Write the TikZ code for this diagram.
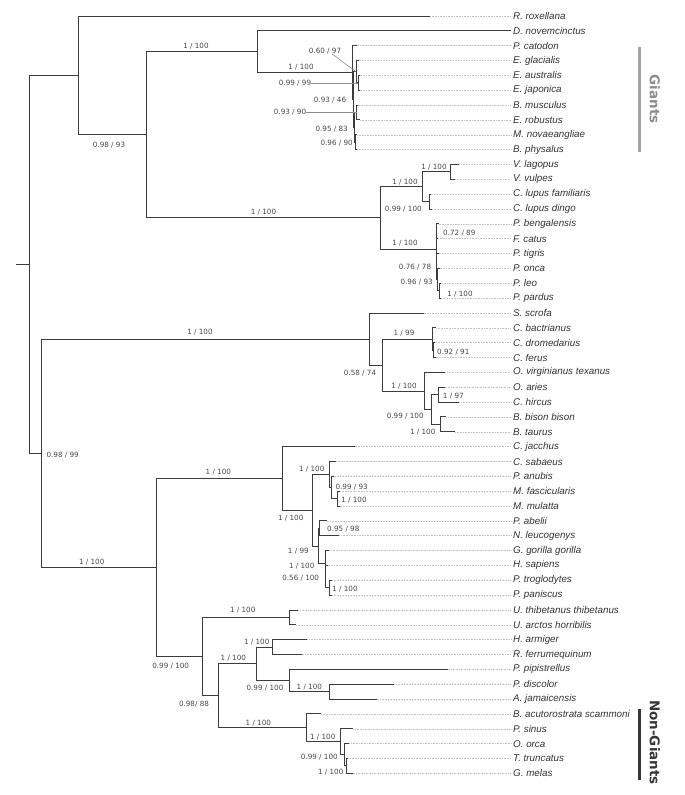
\documentclass[tikz,border=0pt]{standalone}
\usepackage{fontspec}
\setmainfont{Liberation Sans}
\newfontfamily\supfam{DejaVu Sans}
\definecolor{branchGray}{RGB}{60,60,60}
\definecolor{leaderGray}{RGB}{195,195,195}
\definecolor{taxonGray}{RGB}{50,50,50}
\definecolor{supGray}{RGB}{70,70,70}
\definecolor{pointerGray}{RGB}{140,140,140}
\definecolor{giantGray}{RGB}{165,160,162}
\definecolor{giantText}{RGB}{140,140,140}
\definecolor{nonGiantDark}{RGB}{55,55,55}
\tikzset{
  branch/.style={draw=branchGray, line width=0.95pt},
  leader/.style={draw=leaderGray, line width=0.6pt, dash pattern=on 0.8pt off 0.8pt, shorten >=2pt},
  taxon/.style={anchor=west, inner sep=0pt, text=taxonGray, font=\fontsize{9.8}{11}\selectfont\itshape},
  support/.style={inner sep=0pt, text=supGray, font=\supfam\fontsize{7.2}{8}\selectfont},
  pointer/.style={draw=pointerGray, line width=0.6pt},
  groupbar/.style={line width=3.3pt},
  grouplabel/.style={rotate=-90, inner sep=0pt, font=\supfam\bfseries\fontsize{13.5}{14}\selectfont}
}
\begin{document}
\begin{tikzpicture}[x=1pt, y=-1pt]
\useasboundingbox (0,0) rectangle (685,795);

\foreach \tname/\trow/\ttip in {R. roxellana/0/430, D. novemcinctus/1/511, P. catodon/2/356.7, E. glacialis/3/358.5,
  E. australis/4/359.5, E. japonica/5/359.5, B. musculus/6/357.5, E. robustus/7/360, M. novaeangliae/8/357,
  B. physalus/9/357, V. lagopus/10/459.3, V. vulpes/11/455, C. lupus familiaris/12/430.5, C. lupus dingo/13/432,
  P. bengalensis/14/438.5, F. catus/15/438, P. tigris/16/438.5, P. onca/17/439.5, P. leo/18/440.5, P. pardus/19/441,
  S. scrofa/20/423.6, C. bactrianus/21/436, C. dromedarius/22/434.5, C. ferus/23/435.5, O. virginianus texanus/24/445.4,
  O. aries/25/444.5, C. hircus/26/459.4, B. bison bison/27/446.3, B. taurus/28/455, C. jacchus/29/354.5,
  C. sabaeus/30/336, P. anubis/31/333.5, M. fascicularis/32/340, M. mulatta/33/339.5, P. abelii/34/326.7,
  N. leucogenys/35/339.3, G. gorilla gorilla/36/329.3, H. sapiens/37/327.5, P. troglodytes/38/332, P. paniscus/39/332,
  U. thibetanus thibetanus/40/298.3, U. arctos horribilis/41/296, H. armiger/42/307.3, R. ferrumequinum/43/301.7,
  P. pipistrellus/44/447.7, P. discolor/45/394.3, A. jamaicensis/46/376.7, B. acutorostrata scammoni/47/321,
  P. sinus/48/353.3, O. orca/49/349.3, T. truncatus/50/348.3, G. melas/51/352.7}{
  \coordinate (tip\trow) at (\ttip, {16+14.85*\trow});
  \node[taxon] (lab\trow) at (513, {16+14.85*\trow}) {\tname};
  \draw[leader] (tip\trow) -- (lab\trow.west);
}

\coordinate (stem) at (16,264.3);
\coordinate (root) at (29.3,264.3);
\coordinate (anc1) at (78.6,75.4);
\coordinate (anc2) at (146.3,134.8);
\coordinate (xen) at (257.3,51.7);
\coordinate (whales) at (352.5,72.6);
\coordinate (baleen) at (353.3,99.6);
\coordinate (eub) at (356,71.7);
\coordinate (eubAJ) at (358.3,82.8);
\coordinate (ror) at (354,127.4);
\coordinate (rorBE) at (356.7,112.5);
\coordinate (rorMB) at (355.3,142.2);
\coordinate (carn) at (380.7,217.9);
\coordinate (can) at (422.3,186.8);
\coordinate (vul) at (450,171.9);
\coordinate (lup) at (429.3,201.6);
\coordinate (fel) at (436,249);
\coordinate (felPF) at (436.7,231.3);
\coordinate (pan) at (436.8,266.6);
\coordinate (panOLP) at (437.7,279.6);
\coordinate (panLP) at (439.3,290.7);
\coordinate (lower) at (41.3,453.3);
\coordinate (cetart) at (369,339);
\coordinate (cetart2) at (382,365);
\coordinate (cam) at (432.3,339);
\coordinate (camDF) at (433.2,350.1);
\coordinate (rum) at (424.5,391);
\coordinate (bov) at (431.4,409.5);
\coordinate (bovOC) at (438.9,394.7);
\coordinate (bovBB) at (440.2,424.4);
\coordinate (bor) at (156,567.5);
\coordinate (pri) at (282,478.4);
\coordinate (cat) at (312.7,510.2);
\coordinate (cer) at (329.3,474.5);
\coordinate (pap) at (331,487.5);
\coordinate (mac) at (337.7,498.6);
\coordinate (hom) at (318,546);
\coordinate (homPN) at (319.5,528.3);
\coordinate (afr) at (325,563.6);
\coordinate (afrHP) at (325.5,576.6);
\coordinate (afrPP) at (329.3,587.7);
\coordinate (lau) at (202.7,656.6);
\coordinate (urs) at (289.3,617.4);
\coordinate (lau2) at (218.3,695.9);
\coordinate (chi) at (256,663.8);
\coordinate (rhi) at (272.7,647.1);
\coordinate (yan) at (289.3,680.5);
\coordinate (phy) at (329.3,691.7);
\coordinate (cet) at (306.7,727.9);
\coordinate (odo) at (340.7,741.8);
\coordinate (del) at (344,754.8);
\coordinate (delTG) at (346,765.9);

\draw[branch] (stem) -- (root);
\draw[branch] (root) |- (anc1) (root) |- (lower);
\draw[branch] (anc1) |- (tip0) (anc1) |- (anc2);
\draw[branch] (anc2) |- (xen) (anc2) |- (carn);
\draw[branch] (xen) |- (tip1) (xen) |- (whales);
\draw[branch] (whales) |- (tip2) (whales) |- (baleen);
\draw[branch] (baleen) |- (eub) (baleen) |- (ror);
\draw[branch] (eub) |- (tip3) (eub) |- (eubAJ);
\draw[branch] (eubAJ) |- (tip4) (eubAJ) |- (tip5);
\draw[branch] (ror) |- (rorBE) (ror) |- (rorMB);
\draw[branch] (rorBE) |- (tip6) (rorBE) |- (tip7);
\draw[branch] (rorMB) |- (tip8) (rorMB) |- (tip9);
\draw[branch] (carn) |- (can) (carn) |- (fel);
\draw[branch] (can) |- (vul) (can) |- (lup);
\draw[branch] (vul) |- (tip10) (vul) |- (tip11);
\draw[branch] (lup) |- (tip12) (lup) |- (tip13);
\draw[branch] (fel) |- (felPF) (fel) |- (pan);
\draw[branch] (felPF) |- (tip14) (felPF) |- (tip15);
\draw[branch] (pan) |- (tip16) (pan) |- (panOLP);
\draw[branch] (panOLP) |- (tip17) (panOLP) |- (panLP);
\draw[branch] (panLP) |- (tip18) (panLP) |- (tip19);
\draw[branch] (lower) |- (cetart) (lower) |- (bor);
\draw[branch] (cetart) |- (tip20) (cetart) |- (cetart2);
\draw[branch] (cetart2) |- (cam) (cetart2) |- (rum);
\draw[branch] (cam) |- (tip21) (cam) |- (camDF);
\draw[branch] (camDF) |- (tip22) (camDF) |- (tip23);
\draw[branch] (rum) |- (tip24) (rum) |- (bov);
\draw[branch] (bov) |- (bovOC) (bov) |- (bovBB);
\draw[branch] (bovOC) |- (tip25) (bovOC) |- (tip26);
\draw[branch] (bovBB) |- (tip27) (bovBB) |- (tip28);
\draw[branch] (bor) |- (pri) (bor) |- (lau);
\draw[branch] (pri) |- (tip29) (pri) |- (cat);
\draw[branch] (cat) |- (cer) (cat) |- (hom);
\draw[branch] (cer) |- (tip30) (cer) |- (pap);
\draw[branch] (pap) |- (tip31) (pap) |- (mac);
\draw[branch] (mac) |- (tip32) (mac) |- (tip33);
\draw[branch] (hom) |- (homPN) (hom) |- (afr);
\draw[branch] (homPN) |- (tip34) (homPN) |- (tip35);
\draw[branch] (afr) |- (tip36) (afr) |- (afrHP);
\draw[branch] (afrHP) |- (tip37) (afrHP) |- (afrPP);
\draw[branch] (afrPP) |- (tip38) (afrPP) |- (tip39);
\draw[branch] (lau) |- (urs) (lau) |- (lau2);
\draw[branch] (urs) |- (tip40) (urs) |- (tip41);
\draw[branch] (lau2) |- (chi) (lau2) |- (cet);
\draw[branch] (chi) |- (rhi) (chi) |- (yan);
\draw[branch] (rhi) |- (tip42) (rhi) |- (tip43);
\draw[branch] (yan) |- (tip44) (yan) |- (phy);
\draw[branch] (phy) |- (tip45) (phy) |- (tip46);
\draw[branch] (cet) |- (tip47) (cet) |- (odo);
\draw[branch] (odo) |- (tip48) (odo) |- (del);
\draw[branch] (del) |- (tip49) (del) |- (delTG);
\draw[branch] (delTG) |- (tip50) (delTG) |- (tip51);

\node[support] (sAnc2) at (109,145.5) {0.98 / 93};
\node[support] (sXen) at (196,46.5) {1 / 100};
\node[support] (sWhales) at (301,66.7) {1 / 100};
\node[support] (sEub) at (325,50.7) {0.60 / 97};
\node[support] (sEubAJ) at (295,82.8) {0.99 / 99};
\node[support] (sBaleen) at (330,100) {0.93 / 46};
\node[support] (sRorBE) at (290,112.5) {0.93 / 90};
\node[support] (sRor) at (331.7,129) {0.95 / 83};
\node[support] (sRorMB) at (336.7,143.3) {0.96 / 90};
\node[support] (sCarn) at (263.5,212.5) {1 / 100};
\node[support] (sCan) at (405,182.3) {1 / 100};
\node[support] (sVul) at (434,167.3) {1 / 100};
\node[support] (sLup) at (403.3,209.3) {0.99 / 100};
\node[support] (sFel) at (405,243.5) {1 / 100};
\node[support] (sFelPF) at (459.3,233.3) {0.72 / 89};
\node[support] (sPan) at (415,266.7) {0.76 / 78};
\node[support] (sPanOLP) at (416.7,282.3) {0.96 / 93};
\node[support] (sPanLP) at (460,294) {1 / 100};
\node[support] (sCetart) at (200,331.7) {1 / 100};
\node[support] (sCam) at (404,332.7) {1 / 99};
\node[support] (sCamDF) at (453.3,351.7) {0.92 / 91};
\node[support] (sCetart2) at (360,373.3) {0.58 / 74};
\node[support] (sRum) at (404,386) {1 / 100};
\node[support] (sBovOC) at (453.3,396) {1 / 97};
\node[support] (sBov) at (405.2,415.7) {0.99 / 100};
\node[support] (sBovBB) at (422.7,431.7) {1 / 100};
\node[support] (sLower) at (62.7,455) {0.98 / 99};
\node[support] (sBor) at (91.7,561.7) {1 / 100};
\node[support] (sPri) at (218.3,471.7) {1 / 100};
\node[support] (sCat) at (290.7,517.7) {1 / 100};
\node[support] (sCer) at (311.7,469.3) {1 / 100};
\node[support] (sPap) at (351.7,486.7) {0.99 / 93};
\node[support] (sMac) at (354,500) {1 / 100};
\node[support] (sHomPN) at (343.3,529.3) {0.95 / 98};
\node[support] (sHom) at (298.3,550.7) {1 / 99};
\node[support] (sAfr) at (301.7,566) {1 / 100};
\node[support] (sAfrHP) at (300.7,578.3) {0.56 / 100};
\node[support] (sAfrPP) at (345,589.3) {1 / 100};
\node[support] (sUrs) at (242.7,610) {1 / 100};
\node[support] (sLau) at (170.7,665.7) {0.99 / 100};
\node[support] (sRhi) at (256.7,641.7) {1 / 100};
\node[support] (sChi) at (233.3,658.3) {1 / 100};
\node[support] (sYan) at (265,688.3) {0.99 / 100};
\node[support] (sPhy) at (309.3,687.3) {1 / 100};
\node[support] (sLau2) at (194,704.3) {0.98/ 88};
\node[support] (sCet) at (258.3,723.3) {1 / 100};
\node[support] (sOdo) at (322.7,737.3) {1 / 100};
\node[support] (sDel) at (319.3,757.3) {0.99 / 100};
\node[support] (sDelTG) at (330.7,772.3) {1 / 100};

\draw[pointer] ([xshift=7pt]sEub.south) -- (eub);
\draw[pointer] (sEubAJ.east) -- (eubAJ);
\draw[pointer] (sRorBE.east) -- (rorBE);

\coordinate (gTop) at (639.3,46.7);
\coordinate (gBot) at (639.3,151.7);
\draw[groupbar, giantGray] (gTop) -- (gBot);
\node[grouplabel, text=giantText] (giants) at (655,99.2) {Giants};
\coordinate (ngTop) at (639.3,709.3);
\coordinate (ngBot) at (639.3,780);
\draw[groupbar, nonGiantDark] (ngTop) -- (ngBot);
\node[grouplabel, text=nonGiantDark] (nonGiants) at (655,742.5) {Non-Giants};
\end{tikzpicture}
\end{document}
